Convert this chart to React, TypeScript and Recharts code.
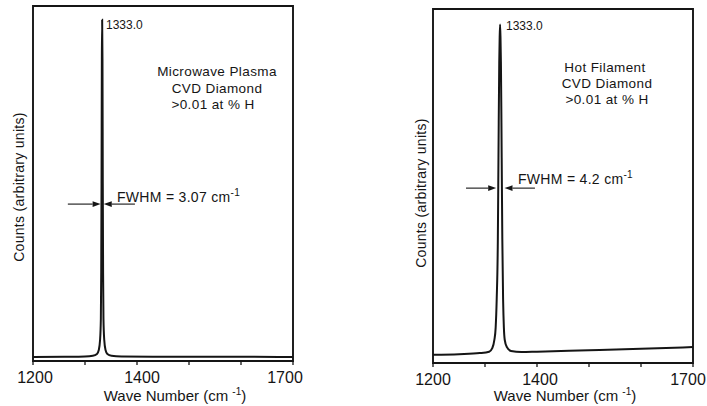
import React from 'react';
import {Line, LineChart, ReferenceArea, ReferenceLine, XAxis, YAxis} from 'recharts';

// wave number axis
const xTicks = [1200, 1300, 1400, 1500, 1600, 1700];
const xTickLabels = ['1200', '', '1400', '', '', '1700'];

// Microwave plasma CVD diamond spectrum (counts in arbitrary units, 0..100)
const mwWave = [1200, 1260, 1300, 1315, 1323, 1326.5, 1329, 1330.5, 1331.2, 1331.8, 1332.4, 1333,
    1333.6, 1334.2, 1334.8, 1335.5, 1337, 1339.5, 1343, 1351, 1370, 1450, 1600, 1700];
const mwCounts = [1.1, 1.2, 1.3, 1.5, 2.0, 3.1, 6, 12, 25, 50, 85, 96.1,
    85, 50, 25, 12, 6, 3.1, 2.0, 1.5, 1.3, 1.2, 1.2, 1.1];

// Hot filament CVD diamond spectrum
const hfWave = [1200, 1250, 1290, 1308, 1314, 1318, 1320.5, 1322.5, 1324.7, 1325.5, 1326.4, 1327.4, 1328.2, 1329,
    1329.8, 1330.6, 1331.6, 1332.5, 1333.3, 1334.8, 1336.3, 1338, 1342, 1350, 1370, 1400, 1500, 1600, 1700];
const hfCounts = [2.3, 2.5, 2.8, 3.2, 4.2, 6.5, 10, 18, 35, 50, 68, 85, 92, 95.6,
    92, 85, 68, 50, 35, 18, 10, 6.5, 4.5, 3.4, 3.1, 3.2, 3.6, 4.0, 4.5];

// FWHM arrows: [tail, tip] wave numbers at a given count level
const mwArrows = {y: 44.2, left: [1267, 1330], right: [1396, 1336]};
const hfArrows = {y: 49.4, left: [1263.5, 1321.5], right: [1396, 1337.5]};

const INK = '#151515';
const FONT = '"Liberation Sans", Arial, Helvetica, sans-serif';

const ArrowShape = (props: any) => {
    const {x1, y1, x2, y2} = props;
    const dx = x2 - x1;
    const dy = y2 - y1;
    const len = Math.hypot(dx, dy) || 1;
    const ux = dx / len;
    const uy = dy / len;
    const hl = 8;
    const hw = 2.8;
    const bx = x2 - ux * hl;
    const by = y2 - uy * hl;
    return (
        <g>
            <line x1={x1} y1={y1} x2={bx} y2={by} stroke={INK} strokeWidth={1.1}/>
            <polygon points={`${x2},${y2} ${bx - uy * hw},${by + ux * hw} ${bx + uy * hw},${by - ux * hw}`}
                     fill={INK}/>
        </g>
    );
};

interface PanelProps {
    left: number,
    width: number,
    margin: {top: number, right: number, bottom: number, left: number},
    wave: number[],
    counts: number[],
    arrows: {y: number, left: number[], right: number[]},
    tickShift: number[]
}

const Panel: React.FC<PanelProps> = ({left, width, margin, wave, counts, arrows, tickShift}) => {
    const data = wave.map((x, i) => ({x, y: counts[i]}));
    const renderTick = (p: any) => {
        const i = xTicks.indexOf(p.payload.value);
        const label = xTickLabels[i];
        if (!label) return <g/>;
        return (
            <text x={p.x + tickShift[i]} y={p.y} dy="0.71em" textAnchor="middle" fontSize={16}
                  fontFamily={FONT} fill={INK}>{label}</text>
        );
    };
    return (
        <div style={{position: 'absolute', left, top: 0}}>
            <LineChart width={width} height={406} data={data} margin={margin}>
                <XAxis dataKey="x" type="number" domain={[1200, 1700]} ticks={xTicks} interval={0}
                       axisLine={false} tickSize={4} tickMargin={7} height={30}
                       tickLine={{stroke: INK, strokeWidth: 1.3}} tick={renderTick}/>
                <YAxis hide domain={[0, 100]}/>
                <ReferenceArea x1={1200} x2={1700} y1={0} y2={100} fill="none" fillOpacity={0}
                               stroke={INK} strokeWidth={1.9} strokeOpacity={1}/>
                <Line type="monotone" dataKey="y" stroke={INK} strokeWidth={2} dot={false}
                      isAnimationActive={false}/>
                <ReferenceLine segment={[{x: arrows.left[0], y: arrows.y}, {x: arrows.left[1], y: arrows.y}]}
                               shape={ArrowShape}/>
                <ReferenceLine segment={[{x: arrows.right[0], y: arrows.y}, {x: arrows.right[1], y: arrows.y}]}
                               shape={ArrowShape}/>
            </LineChart>
        </div>
    );
};

const Sup = ({children}: {children: React.ReactNode}) => (
    <tspan fontSize={10} dy={-6}>{children}</tspan>
);

const App: React.FC = () => {
    const t = {fontFamily: FONT, fill: INK};
    return (
        <div style={{position: 'absolute', left: 0, top: 0, width: 707, height: 406, background: '#fff'}}>
            <Panel left={0} width={340} margin={{top: 6, right: 47, bottom: 15, left: 33}}
                   wave={mwWave} counts={mwCounts} arrows={mwArrows} tickShift={[2, 0, 5, 0, 0, -8]}/>
            <Panel left={390} width={317} margin={{top: 9, right: 14, bottom: 13, left: 43}}
                   wave={hfWave} counts={hfCounts} arrows={hfArrows} tickShift={[0, 0, 3, 0, 0, -5]}/>
            <svg width={707} height={406} style={{position: 'absolute', left: 0, top: 0, pointerEvents: 'none'}}>
                {/* left panel */}
                <text x={106} y={29} fontSize={12} {...t}>1333.0</text>
                <g textAnchor="middle" fontSize={13.5} letterSpacing={0.4} {...t}>
                    <text x={217} y={76}>Microwave Plasma</text>
                    <text x={217} y={92.5}>CVD Diamond</text>
                    <text x={213} y={108.5}>&gt;0.01 at % H</text>
                </g>
                <text x={117} y={202} fontSize={14} letterSpacing={0.3} {...t}>FWHM = 3.07 cm<Sup>-1</Sup></text>
                <text transform="translate(19,187) rotate(-90)" y={5} textAnchor="middle" fontSize={14}
                      letterSpacing={0.3} {...t}>Counts (arbitrary units)</text>
                <text x={175} y={401} textAnchor="middle" fontSize={15} {...t}>
                    Wave Number (cm <Sup>-1</Sup><tspan dy={6}>)</tspan>
                </text>

                {/* right panel */}
                <text x={506} y={30} fontSize={12} {...t}>1333.0</text>
                <g textAnchor="middle" fontSize={13.5} letterSpacing={0.4} {...t}>
                    <text x={605} y={71.5}>Hot Filament</text>
                    <text x={607} y={88.3}>CVD Diamond</text>
                    <text x={607} y={104}>&gt;0.01 at % H</text>
                </g>
                <text x={518} y={184} fontSize={14} letterSpacing={0.3} {...t}>FWHM = 4.2 cm<Sup>-1</Sup></text>
                <text transform="translate(421,193) rotate(-90)" y={5} textAnchor="middle" fontSize={14}
                      letterSpacing={0.3} {...t}>Counts (arbitrary units)</text>
                <text x={565} y={401} textAnchor="middle" fontSize={15} {...t}>
                    Wave Number (cm <Sup>-1</Sup><tspan dy={6}>)</tspan>
                </text>
            </svg>
        </div>
    );
};

export default App;
